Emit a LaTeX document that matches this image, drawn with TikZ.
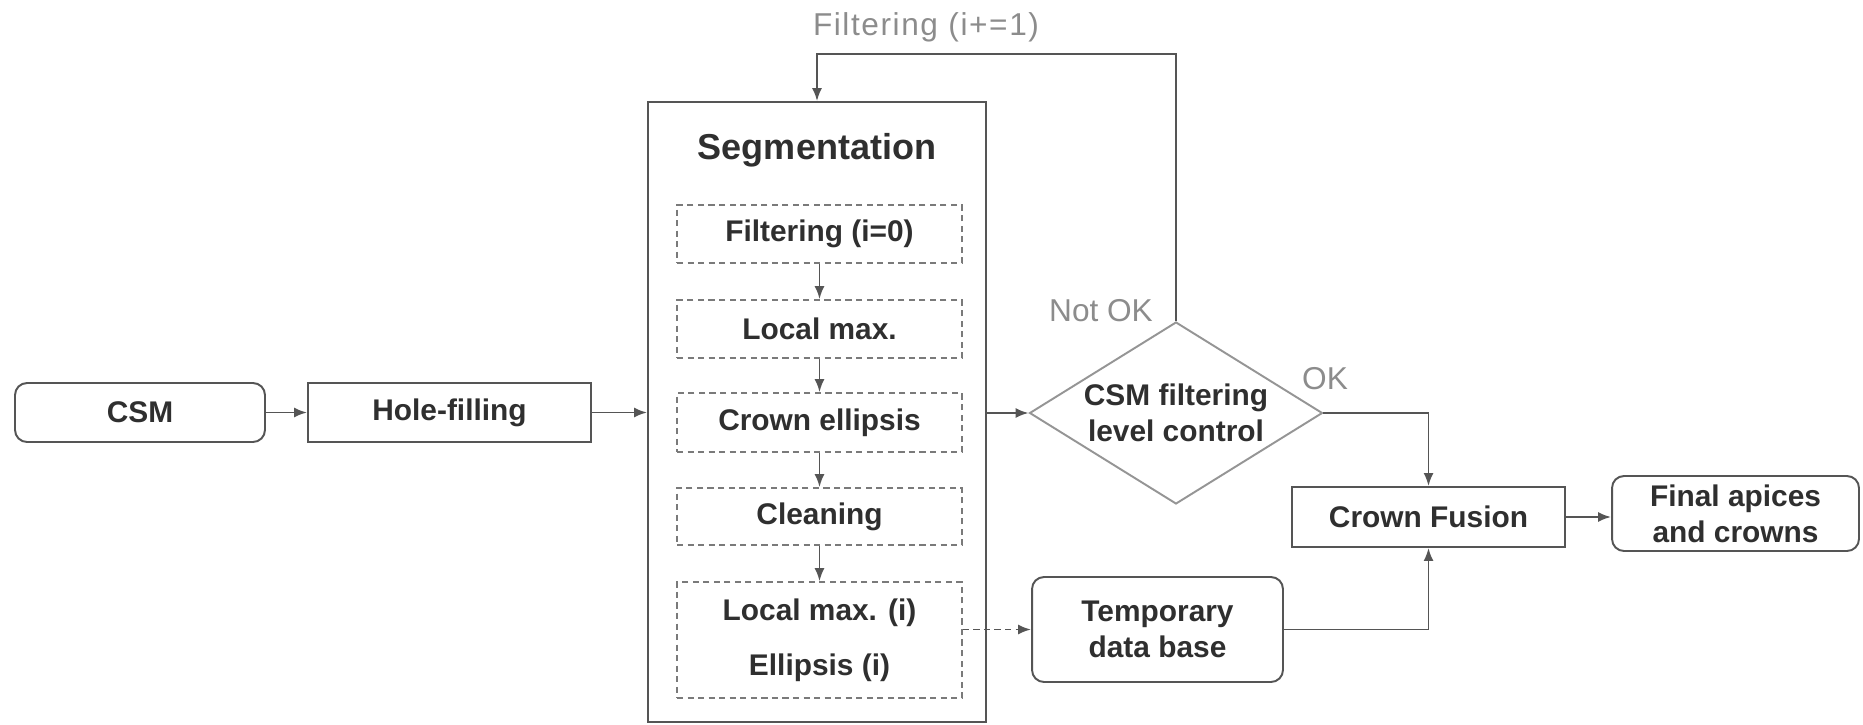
\documentclass[tikz,border=0pt]{standalone}
\usepackage{fontspec}
\setmainfont{Liberation Sans}[Ligatures=NoCommon]
\usetikzlibrary{shapes.geometric,arrows.meta}

\definecolor{linegray}{HTML}{555555}
\definecolor{dashgray}{HTML}{7A7A7A}
\definecolor{diagray}{HTML}{959595}
\definecolor{textgray}{HTML}{2F2F2F}
\definecolor{labelgray}{HTML}{8C8C8C}

\tikzset{
  box/.style={draw=linegray, line width=1.1pt, fill=white, text=textgray,
    font=\bfseries\fontsize{17}{20.4}\selectfont, align=center, inner sep=0pt},
  roundbox/.style={box, rounded corners=0.24cm},
  stepbox/.style={box, draw=dashgray, line width=1pt, dash pattern=on 3.5pt off 2.5pt,
    minimum width=5.7cm},
  arr/.style={draw=linegray, line width=1.1pt, -{Latex[length=0.26cm,width=0.2cm]}},
  lbl/.style={text=labelgray, font=\fontsize{18}{21.6}\selectfont, inner sep=0pt}
}

\begin{document}
\begin{tikzpicture}[x=0.02cm, y=-0.02cm]
\useasboundingbox (0,0) rectangle (1863,724);

\node [roundbox, minimum width=5cm, minimum height=1.18cm] (csm) at (140,412.5) {CSM};
\node [box, minimum width=5.66cm, minimum height=1.18cm] (hole) at (449.5,412.5) {Hole-filling};

\node [box, minimum width=6.76cm, minimum height=12.4cm] (seg) at (817,412) {};
\node [text=textgray, font=\bfseries\fontsize{20.5}{24}\selectfont] (segtitle) at (817,150) {Segmentation};

\node [stepbox, minimum height=1.16cm] (filt) at (819.5,234) {Filtering (i=0)};
\node [stepbox, minimum height=1.16cm] (lmax) at (819.5,329) {Local max.};
\node [stepbox, minimum height=1.18cm] (ell) at (819.5,422.5) {Crown ellipsis};
\node [stepbox, minimum height=1.14cm] (clean) at (819.5,516.5) {Cleaning};
\node [stepbox, minimum height=2.32cm] (lmaxi) at (819.5,640) {Local max. (i)\\[11pt]Ellipsis (i)};

\node [diamond, draw=diagray, line width=1.1pt, minimum width=5.86cm, minimum height=3.64cm,
  inner sep=0pt,
  label={[text=textgray, align=center, font=\bfseries\fontsize{17}{20.4}\selectfont]center:CSM filtering\\level control}]
  (ctrl) at (1176,413) {};

\node [roundbox, minimum width=5.02cm, minimum height=2.1cm] (temp) at (1157.5,629.5) {Temporary\\data base};
\node [box, minimum width=5.46cm, minimum height=1.2cm] (fusion) at (1428.5,517) {Crown Fusion};
\node [roundbox, minimum width=4.94cm, minimum height=1.5cm] (final) at (1735.5,513.5) {Final apices\\and crowns};

\node [lbl, font=\fontsize{18}{21.6}\selectfont\addfontfeature{LetterSpace=5}] (iter) at (926,27) {Filtering (i+=1)};
\node [lbl] (notok) at (1101,311) {Not OK};
\node [lbl] (ok) at (1325,379) {OK};

\coordinate (loop) at (0,54);

\draw [arr] (csm) -- (hole);
\draw [arr] (hole.east) -- (hole.east -| seg.west);
\foreach \a/\b in {filt/lmax, lmax/ell, ell/clean, clean/lmaxi}
  \draw [arr] (\a) -- (\b);
\draw [arr] (seg.east |- ctrl.west) -- (ctrl.west);
\draw [arr] (ctrl.north) |- (loop -| seg.north) -- (seg.north);
\draw [arr] (ctrl.east) -| (fusion.north);
\draw [arr, dash pattern=on 3.5pt off 2.5pt] (lmaxi.east |- temp.west) -- (temp.west);
\draw [arr] (temp.east) -| (fusion.south);
\draw [arr] (fusion.east) -- (fusion.east -| final.west);
\end{tikzpicture}
\end{document}
